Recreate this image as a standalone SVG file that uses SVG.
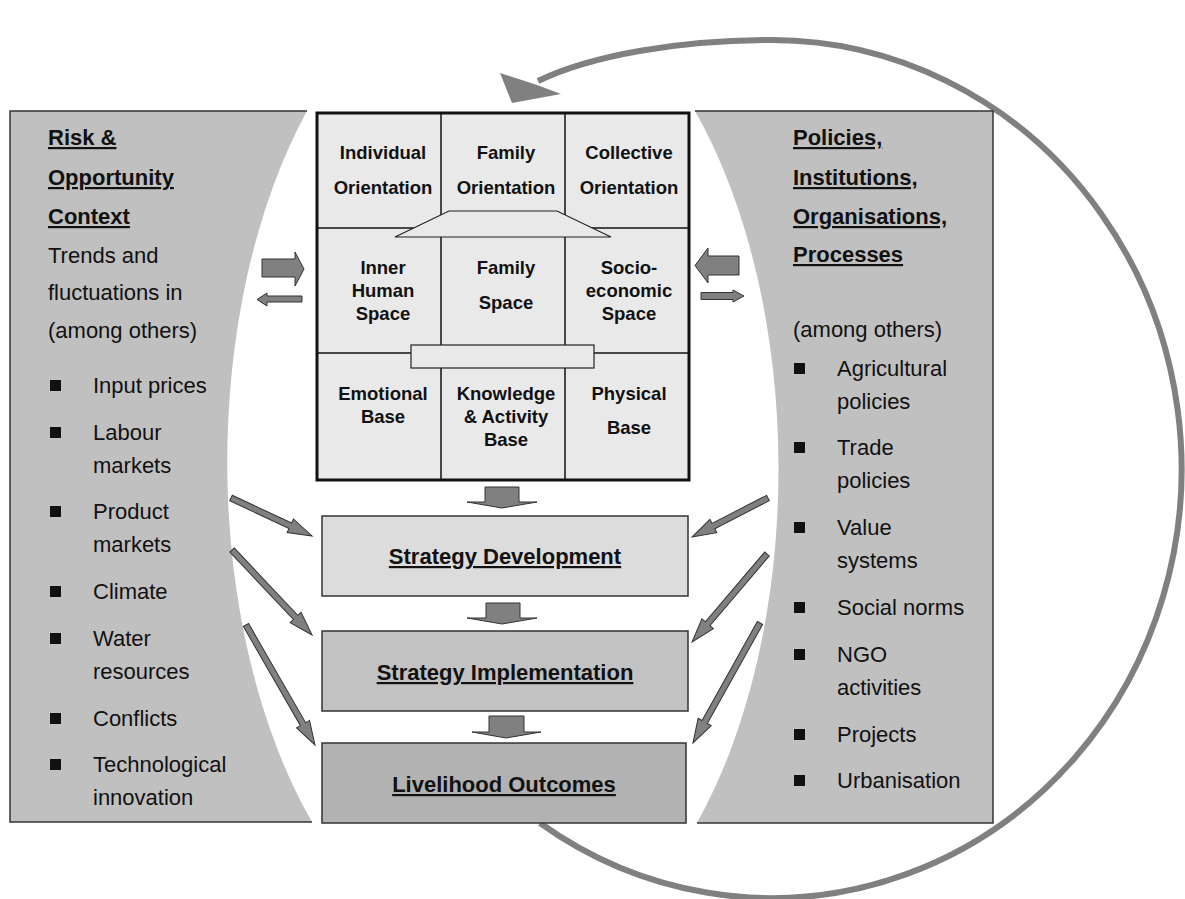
<svg xmlns="http://www.w3.org/2000/svg" width="1185" height="899" viewBox="0 0 1185 899">
<defs>
<style>
.txt{font-family:"Liberation Sans",Arial,sans-serif;font-size:22px;fill:#111}
.hd{font-family:"Liberation Sans",Arial,sans-serif;font-size:22px;font-weight:bold;text-decoration:underline;fill:#111}
.cell{font-family:"Liberation Sans",Arial,sans-serif;font-size:18.5px;font-weight:bold;fill:#111;text-anchor:middle}
.lbl{font-family:"Liberation Sans",Arial,sans-serif;font-size:22px;font-weight:bold;text-decoration:underline;fill:#111;text-anchor:middle}
.panel{fill:#c0c0c0;stroke:none}
.pborder{fill:none;stroke:#333;stroke-width:1.5}
.blk{fill:#808080;stroke:#333;stroke-width:1}
.bul{fill:#111}
.gline{stroke:#111;stroke-width:1.5;fill:none}
.gcell{fill:#e9e9e9;stroke:none}
.inner{fill:#e9e9e9;stroke:#222;stroke-width:1.2}
</style>
</defs>
<rect x="0" y="0" width="1185" height="899" fill="#ffffff"/>

<g id="cycle-arrow">
<path d="M540,823 A410,429 0 1 0 772,40 C680,40 592,55 538,81" fill="none" stroke="#808080" stroke-width="6"/>
<polygon points="512,103 500,73 537,85 561,94" fill="#808080"/>
</g>

<g id="risk-context">
<path class="panel" d="M10,111 H307 A277,500 0 0 0 312,822 H10 Z"/>
<polyline class="pborder" points="307,111 10,111 10,822 312,822"/>
<text class="hd" x="48" y="145">Risk &amp;</text>
<text class="hd" x="48" y="185">Opportunity</text>
<text class="hd" x="48" y="224">Context</text>
<text class="txt" x="48" y="263">Trends and</text>
<text class="txt" x="48" y="300">fluctuations in</text>
<text class="txt" x="48" y="338">(among others)</text>
<rect class="bul" x="50" y="380" width="11" height="11"/><text class="txt" x="93" y="393">Input prices</text>
<rect class="bul" x="50" y="427" width="11" height="11"/><text class="txt" x="93" y="440">Labour</text>
<text class="txt" x="93" y="473">markets</text>
<rect class="bul" x="50" y="506" width="11" height="11"/><text class="txt" x="93" y="519">Product</text>
<text class="txt" x="93" y="552">markets</text>
<rect class="bul" x="50" y="586" width="11" height="11"/><text class="txt" x="93" y="599">Climate</text>
<rect class="bul" x="50" y="633" width="11" height="11"/><text class="txt" x="93" y="646">Water</text>
<text class="txt" x="93" y="679">resources</text>
<rect class="bul" x="50" y="713" width="11" height="11"/><text class="txt" x="93" y="726">Conflicts</text>
<rect class="bul" x="50" y="759" width="11" height="11"/><text class="txt" x="93" y="772">Technological</text>
<text class="txt" x="93" y="805">innovation</text>
</g>

<g id="policies">
<path class="panel" d="M695,111 H993 V823 H697 A277,500 0 0 0 695,111 Z"/>
<polyline class="pborder" points="695,111 993,111 993,823 697,823"/>
<text class="hd" x="793" y="145">Policies,</text>
<text class="hd" x="793" y="185">Institutions,</text>
<text class="hd" x="793" y="224">Organisations,</text>
<text class="hd" x="793" y="262">Processes</text>
<text class="txt" x="793" y="337">(among others)</text>
<rect class="bul" x="794" y="363" width="11" height="11"/><text class="txt" x="837" y="376">Agricultural</text>
<text class="txt" x="837" y="409">policies</text>
<rect class="bul" x="794" y="442" width="11" height="11"/><text class="txt" x="837" y="455">Trade</text>
<text class="txt" x="837" y="488">policies</text>
<rect class="bul" x="794" y="522" width="11" height="11"/><text class="txt" x="837" y="535">Value</text>
<text class="txt" x="837" y="568">systems</text>
<rect class="bul" x="794" y="602" width="11" height="11"/><text class="txt" x="837" y="615">Social norms</text>
<rect class="bul" x="794" y="649" width="11" height="11"/><text class="txt" x="837" y="662">NGO</text>
<text class="txt" x="837" y="695">activities</text>
<rect class="bul" x="794" y="729" width="11" height="11"/><text class="txt" x="837" y="742">Projects</text>
<rect class="bul" x="794" y="775" width="11" height="11"/><text class="txt" x="837" y="788">Urbanisation</text>
</g>

<g id="assets-grid">
<rect class="gcell" x="317" y="113" width="372" height="367"/>
<line class="gline" x1="317" y1="228" x2="689" y2="228"/>
<line class="gline" x1="317" y1="353" x2="689" y2="353"/>
<line class="gline" x1="441" y1="113" x2="441" y2="480"/>
<line class="gline" x1="565" y1="113" x2="565" y2="480"/>
<polygon class="inner" points="449,211 557,211 611,237 395,237"/>
<rect class="inner" x="411" y="345" width="183" height="23"/>
<rect x="317" y="113" width="372" height="367" fill="none" stroke="#111" stroke-width="3"/>
<text class="cell" x="383" y="159">Individual</text>
<text class="cell" x="383" y="194">Orientation</text>
<text class="cell" x="506" y="159">Family</text>
<text class="cell" x="506" y="194">Orientation</text>
<text class="cell" x="629" y="159">Collective</text>
<text class="cell" x="629" y="194">Orientation</text>
<text class="cell" x="383" y="274">Inner</text>
<text class="cell" x="383" y="297">Human</text>
<text class="cell" x="383" y="320">Space</text>
<text class="cell" x="506" y="274">Family</text>
<text class="cell" x="506" y="309">Space</text>
<text class="cell" x="629" y="274">Socio-</text>
<text class="cell" x="629" y="297">economic</text>
<text class="cell" x="629" y="320">Space</text>
<text class="cell" x="383" y="400">Emotional</text>
<text class="cell" x="383" y="423">Base</text>
<text class="cell" x="506" y="400">Knowledge</text>
<text class="cell" x="506" y="423">&amp; Activity</text>
<text class="cell" x="506" y="446">Base</text>
<text class="cell" x="629" y="400">Physical</text>
<text class="cell" x="629" y="434">Base</text>
</g>

<g id="strategy-development">
<rect x="322" y="516" width="366" height="80" fill="#dcdcdc" stroke="#333" stroke-width="1.5"/>
<text class="lbl" x="505" y="564">Strategy Development</text>
</g>
<g id="strategy-implementation">
<rect x="322" y="631" width="366" height="80" fill="#c2c2c2" stroke="#333" stroke-width="1.5"/>
<text class="lbl" x="505" y="680">Strategy Implementation</text>
</g>
<g id="livelihood-outcomes">
<rect x="322" y="743" width="364" height="80" fill="#b2b2b2" stroke="#333" stroke-width="1.5"/>
<text class="lbl" x="504" y="792">Livelihood Outcomes</text>
</g>

<g id="connectors">
<path class="blk" d="M485,487 H519 V502 H537 L502,508 L467,502 H485 Z"/>
<path class="blk" d="M486,603 H520 V618 H537 L502,624 L467,618 H486 Z"/>
<path class="blk" d="M489,716 H524 V732 H541 L506,738 L472,732 H489 Z"/>
<path class="blk" d="M262,259 H295 V252 L304,269 L295,286 V277 H262 Z"/>
<path class="blk" d="M302,296 H267 V293 L257,299.5 L267,306 V302 H302 Z"/>
<path class="blk" d="M739,256 H708 V248 L695,265.5 L708,283 V275 H739 Z"/>
<path class="blk" d="M701,292.5 H733 V290 L744,296 L733,302 V299.5 H701 Z"/>
<path class="blk" transform="translate(231,498) rotate(25.1)" d="M0,-3 H65.5 V-7.5 L89.5,0 L65.5,7.5 V3 H0 Z"/>
<path class="blk" transform="translate(232,550) rotate(46.7)" d="M0,-3 H92.7 V-7.5 L116.7,0 L92.7,7.5 V3 H0 Z"/>
<path class="blk" transform="translate(246,625) rotate(60.1)" d="M0,-3 H114.4 V-7.5 L138.4,0 L114.4,7.5 V3 H0 Z"/>
<path class="blk" transform="translate(768,498) rotate(152.8)" d="M0,-3 H61.4 V-7.5 L85.4,0 L61.4,7.5 V3 H0 Z"/>
<path class="blk" transform="translate(767,554) rotate(130.4)" d="M0,-3 H91.6 V-7.5 L115.6,0 L91.6,7.5 V3 H0 Z"/>
<path class="blk" transform="translate(760,623) rotate(119.2)" d="M0,-3 H113.4 V-7.5 L137.4,0 L113.4,7.5 V3 H0 Z"/>
</g>
</svg>
